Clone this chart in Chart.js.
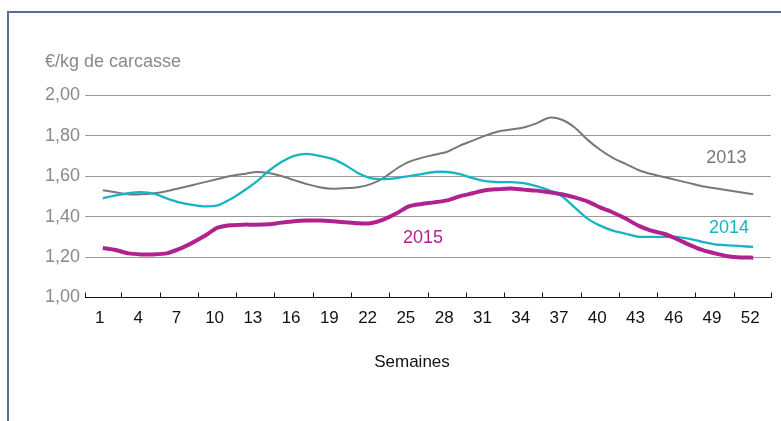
<!DOCTYPE html>
<html>
<head>
<meta charset="utf-8">
<script src="https://cdn.jsdelivr.net/npm/chart.js@4.4.0/dist/chart.umd.min.js"></script>
<style>
  html, body { margin: 0; padding: 0; background: #fff; }
  #wrap { position: relative; width: 781px; height: 421px; overflow: hidden; }
  #frame { position: absolute; left: 7px; top: 11px; width: 800px; height: 440px;
           border-left: 2px solid #5b6e9a; border-top: 2px solid #5b6e9a; }
  canvas { position: absolute; left: 0; top: 0; }
</style>
</head>
<body>
<div id="wrap">
  <div id="frame"></div>
  <canvas id="porcChart" width="781" height="421"></canvas>
</div>
<script>
// Weeks of the year
const weeks = [1, 2, 3, 4, 5, 6, 7, 8, 9, 10, 11, 12, 13, 14, 15, 16, 17, 18, 19, 20,
  21, 22, 23, 24, 25, 26, 27, 28, 29, 30, 31, 32, 33, 34, 35, 36, 37, 38, 39, 40,
  41, 42, 43, 44, 45, 46, 47, 48, 49, 50, 51, 52];

// Price in €/kg carcass, per week
const prix2013 = [1.53, 1.52, 1.51, 1.51, 1.515, 1.525, 1.54, 1.555, 1.57, 1.585,
  1.60, 1.61, 1.62, 1.615, 1.60, 1.58, 1.56, 1.545, 1.537, 1.54,
  1.545, 1.56, 1.59, 1.635, 1.67, 1.69, 1.705, 1.72, 1.75, 1.775,
  1.80, 1.82, 1.83, 1.84, 1.86, 1.888, 1.878, 1.84, 1.78, 1.73,
  1.69, 1.66, 1.63, 1.61, 1.595, 1.58, 1.565, 1.55, 1.54, 1.53,
  1.52, 1.51];

const prix2014 = [1.49, 1.505, 1.515, 1.52, 1.513, 1.49, 1.47, 1.458, 1.45, 1.455,
  1.485, 1.525, 1.57, 1.625, 1.67, 1.70, 1.71, 1.70, 1.685, 1.655,
  1.615, 1.59, 1.585, 1.59, 1.60, 1.61, 1.62, 1.62, 1.61, 1.59,
  1.575, 1.57, 1.57, 1.565, 1.55, 1.53, 1.50, 1.445, 1.39, 1.355,
  1.33, 1.315, 1.30, 1.30, 1.30, 1.30, 1.29, 1.275, 1.263, 1.258,
  1.254, 1.25];

const prix2015 = [1.245, 1.235, 1.218, 1.213, 1.213, 1.218, 1.24, 1.27, 1.305, 1.345,
  1.357, 1.36, 1.36, 1.362, 1.37, 1.377, 1.38, 1.38, 1.377, 1.372,
  1.367, 1.367, 1.385, 1.415, 1.45, 1.462, 1.47, 1.48, 1.50, 1.515,
  1.53, 1.535, 1.538, 1.533, 1.528, 1.52, 1.51, 1.495, 1.475, 1.445,
  1.42, 1.39, 1.355, 1.33, 1.315, 1.29, 1.26, 1.235, 1.218, 1.204,
  1.198, 1.197];

// Labelled weeks and the tick marks between them
const tickWeeks = [1, 4, 7, 10, 13, 16, 19, 22, 25, 28, 31, 34, 37, 40, 43, 46, 49, 52];
const markWeeks = [-0.4, 2.5, 5.5, 8.5, 11.5, 14.5, 17.5, 20.5, 23.5, 26.5, 29.5,
  32.5, 35.5, 38.5, 41.5, 44.5, 47.5, 50.5, 53.4];

// Year labels written next to the lines (week, price)
const yearLabels = ["2013", "2014", "2015"];
const labelWeeks = [49.9, 50.1, 26.1];
const labelPrices = [1.69, 1.342, 1.293];

const colors = ["#787878", "#16b5c2", "#b0228e"];

const toPoints = (values) => weeks.map((w, i) => ({ x: w, y: values[i] }));

// Draws the year labels and the x axis title
const textPlugin = {
  id: "textLabels",
  afterDatasetsDraw(chart) {
    const { ctx, chartArea, scales } = chart;
    ctx.save();
    ctx.textAlign = "center";
    ctx.textBaseline = "middle";
    ctx.font = "18px 'Liberation Sans', Arial, sans-serif";
    yearLabels.forEach((txt, i) => {
      ctx.fillStyle = colors[i];
      ctx.fillText(txt, scales.x.getPixelForValue(labelWeeks[i]), scales.y.getPixelForValue(labelPrices[i]));
    });
    ctx.fillStyle = "#111";
    ctx.font = "17px 'Liberation Sans', Arial, sans-serif";
    ctx.fillText("Semaines", chartArea.left + 327, chartArea.bottom + 65);
    ctx.restore();
  },
};

Chart.defaults.font.family = "'Liberation Sans', Arial, sans-serif";

const ctx = document.getElementById("porcChart").getContext("2d");
new Chart(ctx, {
  type: "line",
  data: {
    datasets: [
      { label: "2013", data: toPoints(prix2013), borderColor: colors[0], borderWidth: 2, order: 3 },
      { label: "2014", data: toPoints(prix2014), borderColor: colors[1], borderWidth: 2.3, order: 2 },
      { label: "2015", data: toPoints(prix2015), borderColor: colors[2], borderWidth: 4, order: 1 },
    ],
  },
  options: {
    responsive: false,
    animation: false,
    devicePixelRatio: 1,
    elements: {
      point: { radius: 0 },
      line: { tension: 0.25, fill: false },
    },
    layout: { padding: { left: 45, right: 10, top: 21, bottom: 92 } },
    plugins: {
      legend: { display: false },
      tooltip: { enabled: false },
      title: {
        display: true,
        text: "€/kg de carcasse",
        align: "start",
        color: "#8a8a8a",
        font: { size: 18, weight: "normal" },
        padding: { top: 30, bottom: 22.5 },
      },
    },
    scales: {
      x: {
        type: "linear",
        min: -0.4,
        max: 53.4,
        afterBuildTicks: (scale) => {
          scale.ticks = [...markWeeks, ...tickWeeks].sort((a, b) => a - b).map((v) => ({ value: v }));
        },
        afterFit: (scale) => {
          scale.height = 31.5;
          scale.paddingLeft = 0;
          scale.paddingRight = 0;
        },
        ticks: {
          autoSkip: false,
          maxRotation: 0,
          padding: 16,
          labelOffset: -3,
          color: "#111",
          font: { size: 17 },
          callback: (v) => (tickWeeks.includes(v) ? String(v) : ""),
        },
        grid: {
          drawOnChartArea: false,
          tickLength: -5,
          tickWidth: 1,
          tickColor: (c) => (c.tick && tickWeeks.includes(c.tick.value) ? "rgba(0,0,0,0)" : "#111"),
        },
        border: { color: "#111", width: 1 },
      },
      y: {
        min: 1,
        max: 2,
        afterFit: (scale) => {
          scale.width = 40;
        },
        ticks: {
          stepSize: 0.2,
          padding: 5,
          color: "#8a8a8a",
          font: { size: 18 },
          callback: (v) => v.toFixed(2).replace(".", ","),
        },
        grid: { color: "#9a9a9a", drawTicks: false, lineWidth: 1 },
        border: { display: false },
      },
    },
  },
  plugins: [textPlugin],
});
</script>
</body>
</html>
